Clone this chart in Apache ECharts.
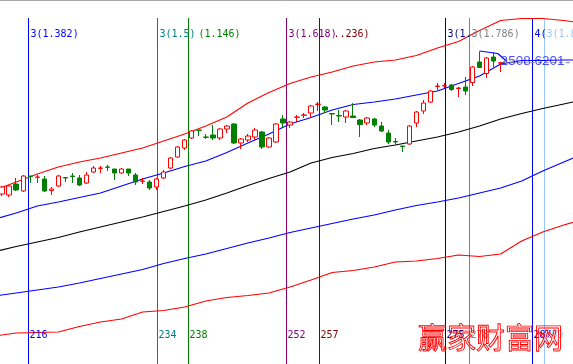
<!DOCTYPE html>
<html><head><meta charset="utf-8">
<script src="https://cdn.jsdelivr.net/npm/echarts@6/dist/echarts.min.js"></script>
<style>html,body{margin:0;padding:0;background:#fff;overflow:hidden}#c{width:573px;height:364px}</style>
</head><body><div id="c"></div>
<script>
// ---- data (prices) ----
// candles: [open, close, low, high], one per bar (bar index = position in list)
const ohlc = [
[2246,2260,2242,2262],[2244,2262,2240,2264],[2266,2254,2252,2278],[2252,2282,2250,2284],
[2282,2281,2268,2282],[2279.4,2280,2268,2284],[2276,2252,2250,2282],[2253,2256,2244,2260],
[2262,2282,2260,2284],[2279,2278,2270,2279],[2282,2281,2268,2288],[2278,2264,2262,2284],
[2268,2284,2266,2290],[2290,2298,2288,2302],[2297.4,2298,2288,2302],[2300,2299.4,2292,2304],
[2296,2288,2274,2296],[2288,2296,2286,2298],[2296,2288,2282,2296],[2284,2270,2264,2288],
[2271.4,2272,2266,2278],[2270,2258,2254,2274],[2260,2276,2254,2278],[2278,2290,2276,2294],
[2298,2318,2296,2320],[2320,2340,2318,2342],[2338,2354,2334,2356],[2358,2372,2356,2374],
[2374,2373.4,2362,2374],[2360,2359.4,2356,2366],[2364,2358,2354,2384],[2358,2376,2354,2378],
[2376,2382,2368,2384],[2386,2348,2346,2388],[2348,2356,2336,2358],[2354,2362,2350,2366],
[2360,2374,2354,2378],[2370,2340,2336,2372],[2340,2358,2338,2360],[2350,2386,2348,2388],
[2396,2388,2380,2404],[2384,2390,2378,2392],[2399.4,2400,2390,2404],[2403.4,2404,2398,2408],
[2408,2422,2400,2424],[2425,2426,2412,2430],[2420,2414,2408,2422],[2407,2406,2384,2407],
[2403,2402,2390,2414],[2400,2412,2388,2414],[2402,2399,2398,2428],[2394,2385,2360,2396],
[2388,2398,2384,2400],[2396,2384,2380,2398],[2382,2372,2370,2390],[2368,2350,2346,2374],
[2351,2350,2344,2358],[2342,2341,2330,2342],[2346,2382,2344,2384],[2388,2410,2380,2412],
[2412,2428,2406,2434],[2430,2452,2428,2454],[2461,2462,2454,2468],[2462,2463,2458,2468],
[2464,2455,2452,2466],[2457,2458,2440,2460],[2460,2452,2444,2480],[2469,2500,2462,2502],
[2510,2499,2498,2531],[2487,2518,2478,2520],[2520,2512,2500,2530],[2507.6,2508.62,2490,2510]
];
// band lines sampled at these bar indices
const bandIdx   = [-1,2,5,8,11,14,17,20,23,26,29,32,35,38,41,44,47,50,53,56,59,62,65,68,71,74,77,80,82];
const upperRed  = [2254,2270,2286,2300,2310,2318,2328,2338,2352,2366,2382,2400,2428,2449,2467,2480,2490,2502,2510,2514,2523,2538,2551,2573,2593,2597,2597,2593,2589];
const midBlue   = [2196,2208,2222,2230,2239,2248,2262,2276,2288,2301,2312,2329,2348,2366,2386,2399,2414,2425,2430,2436,2444,2452,2467,2482,2506,2513,2513,2514,2514];
const midBlack  = [2131,2141,2150,2159,2170,2180,2190,2200,2211,2222,2234,2248,2263,2277,2290,2308,2319,2327,2337,2344,2352,2360,2370,2382,2396,2407,2417,2426,2432];
const lowBlue   = [2042,2048,2054,2060,2068,2077,2086,2095,2107,2117,2126,2137,2148,2158,2169,2178,2187,2196,2204,2214,2223,2230,2238,2248,2258,2272,2292,2310,2322];
const lowRed    = [1962,1968,1969,1970,1981,1990,1996,2010,2013,2020,2032,2039,2043,2048,2060,2074,2089,2093,2100,2110,2112,2117,2124,2121,2126,2152,2170,2184,2192];
// small peak marker polyline
const peakIdx = [68, 70.6, 71.9];
const peakVal = [2532, 2527, 2511];
const lastClose = 2508.6201;
// Fibonacci time lines: bar positions and texts
const fibAt     = [3.72, 22.09, 26.51, 40.43, 45.17, 63.12, 66.54, 75.43, 77.22];
const fibTop    = ['3(1.382)','3(1.5)','(1.146)','3(1.618)','..236)','3(1.','3(1.786)','4(','3(1.8'];
const fibBottom = ['216','234','238','252','257','275','278','287','289'];
const watermark = '赢家财富网';

// ---- style ----
const fibColors = ['#0000ff','#008080','#008000','#800080','#800000','#000080','#808080','#0000ff','#99c8f8'];
const topDx = [1,1,9,1,13,1,1,1,1];
const X_MIN = -0.313, X_MAX = 81.31, Y_MIN = 1906, Y_MAX = 2634;

function pairs(xs, ys){ return xs.map((x,i)=>[x, ys[i]]); }
function band(name, vals, color){
  return {name, type:'line', data:pairs(bandIdx, vals), symbol:'none', silent:true,
    lineStyle:{color, width:1.1}, z:1};
}
const chart = echarts.init(document.getElementById('c'), null, {renderer:'canvas'});
chart.setOption({
  animation:false,
  backgroundColor:'#ffffff',
  grid:{left:0,right:0,top:0,bottom:0},
  xAxis:{type:'value',min:X_MIN,max:X_MAX,show:false,splitLine:{show:false}},
  yAxis:{type:'value',min:Y_MIN,max:Y_MAX,show:false,splitLine:{show:false}},
  series:[
    band('upper', upperRed, '#ff0000'),
    band('mid', midBlue, '#0000ff'),
    band('base', midBlack, '#000000'),
    band('low', lowBlue, '#0000ff'),
    band('floor', lowRed, '#ff0000'),
    {type:'candlestick', data: ohlc.map((d,i)=>[i, d[0], d[1], d[2], d[3]]),
      encode:{x:0, y:[1,2,3,4]}, barWidth:5, z:3,
      itemStyle:{color:'#ffffff', color0:'#008000', borderColor:'#ff0000', borderColor0:'#008000', borderWidth:1}},
    {type:'line', data:pairs(peakIdx, peakVal), symbol:'none', lineStyle:{color:'#0000ff', width:1.1}, z:4},
    {type:'line', data:[[ohlc.length-1+0.3, lastClose],[X_MAX+1, lastClose]], symbol:'none',
      lineStyle:{color:'#808080', width:1, type:[4,3]}, z:4}
  ]
});

const g = [];
g.push({type:'line', shape:{x1:0,y1:0.5,x2:573,y2:0.5}, style:{stroke:'#a8a8a8', lineWidth:1}, z:10});
const H = chart.getHeight();
fibAt.forEach((k,i)=>{
  const x = Math.round(chart.convertToPixel({xAxisIndex:0}, k)) + 0.5;
  g.push({type:'line', shape:{x1:x,y1:18,x2:x,y2:H}, style:{stroke:fibColors[i], lineWidth:1}, z:0});
  g.push({type:'text', x:x+1+topDx[i], y:34, z:5,
    style:{text:fibTop[i], fill:fibColors[i], font:'10px "DejaVu Sans Mono"', textVerticalAlign:'middle', verticalAlign:'middle'}});
  g.push({type:'text', x:x+1, y:335, z:5,
    style:{text:fibBottom[i], fill:fibColors[i], font:'10px "DejaVu Sans Mono"', textVerticalAlign:'middle', verticalAlign:'middle'}});
});
const lp = chart.convertToPixel({gridIndex:0}, [ohlc.length-1, lastClose]);
g.push({type:'text', x:lp[0], y:lp[1]-1.5, z:6,
  style:{text:lastClose.toFixed(4), fill:'rgba(30,30,255,0.8)', font:'13.5px "Liberation Sans"', verticalAlign:'middle', textVerticalAlign:'middle'}});
g.push({type:'text', x:418, y:338, z:20,
  style:{text:watermark, fill:'rgba(255,0,0,0)', stroke:'#ff0000', lineWidth:0.9, font:'29px "Noto Sans CJK SC"', verticalAlign:'middle', textVerticalAlign:'middle'}});
chart.setOption({graphic:g});
</script>
</body></html>
